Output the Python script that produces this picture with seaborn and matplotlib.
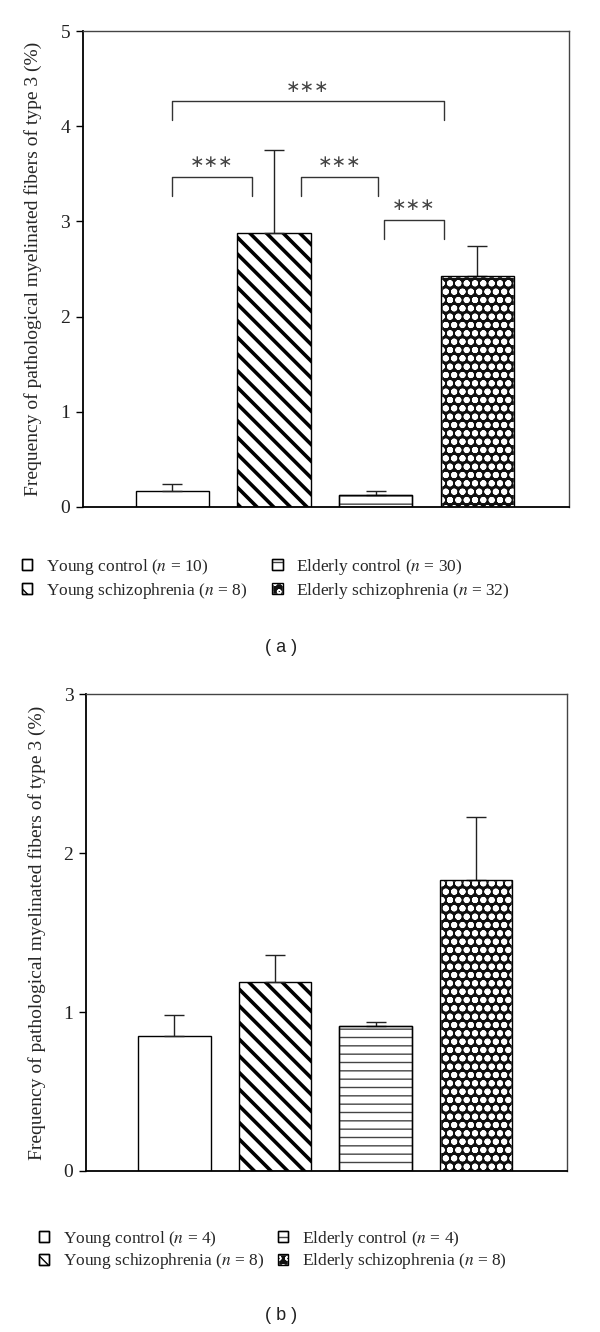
import numpy as np
import pandas as pd
import matplotlib
matplotlib.use("Agg")
import matplotlib.pyplot as plt
import seaborn as sns
from matplotlib.patches import Patch, Rectangle
from matplotlib.legend_handler import HandlerTuple

sns.set_theme(style="white")
plt.rcParams['font.family'] = ['Liberation Serif', 'DejaVu Serif']
plt.rcParams['mathtext.fontset'] = 'stix'

# ---------------- data ----------------
groups = ["Young control", "Young schizophrenia", "Elderly control", "Elderly schizophrenia"]
values_a = [0.17, 2.88, 0.13, 2.43]
errors_a = [0.07, 0.87, 0.04, 0.31]
n_a = [10, 8, 30, 32]
values_b = [0.85, 1.19, 0.915, 1.83]
errors_b = [0.13, 0.17, 0.025, 0.40]
n_b = [4, 8, 4, 8]
yticks_a = [0, 1, 2, 3, 4, 5]
yticks_b = [0, 1, 2, 3]
ylabel = "Frequency of pathological myelinated fibers of type 3 (%)"
# significance brackets for panel a: (x_start, x_end, y_top, label)
brackets_a = [(0.0, 2.67, 4.265, "***"),
              (0.0, 0.78, 3.47, "***"),
              (1.27, 2.02, 3.47, "***"),
              (2.08, 2.67, 3.02, "***")]

# ---------------- styles ----------------
hatches = [None, '\\\\', '--', 'oo']
faces = ['white', 'white', 'white', '#111111']
hatch_cols = ['black', 'black', '#444444', 'white']
hatch_lw = [1.0, 2.6, 1.0, 2.0]

fig = plt.figure(figsize=(6.0, 13.32), dpi=100)
ax_a = fig.add_axes([0.138, 0.6194, 0.810, 0.3573])
ax_b = fig.add_axes([0.1433, 0.1209, 0.8012, 0.3578])


def style_bars(ax):
    for i, p in enumerate(ax.patches[:4]):
        p.set_facecolor(faces[i])
        p.set_edgecolor(hatch_cols[i])
        if hatches[i]:
            p.set_hatch(hatches[i])
            if hasattr(p, "set_hatch_linewidth"):
                p.set_hatch_linewidth(hatch_lw[i])
        if hatch_cols[i] != 'black':
            ax.add_patch(Rectangle(p.get_xy(), p.get_width(), p.get_height(),
                                   fill=False, edgecolor='black', linewidth=1.0,
                                   zorder=p.get_zorder() + 0.1))


def panel(ax, values, errors, ymax, yticks):
    df = pd.DataFrame({"group": groups, "value": values})
    sns.barplot(data=df, x="group", y="value", order=groups, ax=ax,
                color='white', edgecolor='black', linewidth=1.0, width=0.72,
                errorbar=None, saturation=1)
    bars = ax.patches[:4]
    style_bars(ax)
    xs = [p.get_x() + p.get_width() / 2 for p in bars]
    ax.errorbar(xs, values, yerr=[np.zeros(len(values)), errors], fmt='none',
                ecolor='#222222', elinewidth=1.0, capsize=7, capthick=1.0, zorder=1)
    ax.set_xlim(-0.88, 3.90)
    ax.set_ylim(0, ymax)
    ax.set_yticks(yticks)
    ax.set_yticklabels([str(t) for t in yticks], fontsize=14)
    ax.set_xticks([])
    ax.set_xlabel("")
    ax.set_ylabel(ylabel, fontsize=14, labelpad=13)
    for s in ['left', 'bottom']:
        ax.spines[s].set_color('black')
        ax.spines[s].set_linewidth(1.3)
    for s in ['top', 'right']:
        ax.spines[s].set_color('#444444')
        ax.spines[s].set_linewidth(1.0)
    ax.tick_params(axis='y', which='major', left=True, length=5, width=1.0,
                   direction='out', pad=4, colors='black')
    ax.tick_params(axis='y', labelcolor='#222222')


panel(ax_a, values_a, errors_a, 5, yticks_a)
panel(ax_b, values_b, errors_b, 3, yticks_b)

# brackets in panel a
for x1, x2, y, lab in brackets_a:
    ax_a.plot([x1, x1, x2, x2], [y - 0.2, y, y, y - 0.2], color='#333333', lw=1.0)
    ax_a.text((x1 + x2) / 2, y + 0.15, "\u2217\u2217\u2217", ha='center', va='center',
              fontsize=12.5, color='#444444', family='DejaVu Sans')


def legend_handles(ns):
    hs, labs = [], []
    for i, g in enumerate(groups):
        fillp = Patch(facecolor=faces[i], edgecolor=hatch_cols[i],
                      hatch=hatches[i], linewidth=1.0)
        outline = Patch(facecolor='none', edgecolor='black', linewidth=1.0)
        hs.append((fillp, outline))
        labs.append(f"{g} ($n$ = {ns[i]})")
    return hs, labs


hs, labs = legend_handles(n_a)
fig.legend(handles=hs, labels=labs, ncol=2, loc='center',
           handler_map={tuple: HandlerTuple(ndivide=1, pad=0)},
           bbox_to_anchor=(0.443, 0.5655), frameon=False, fontsize=12.5,
           handlelength=0.6, handleheight=0.6, handletextpad=0.8,
           columnspacing=1.45, labelspacing=0.25)
hs, labs = legend_handles(n_b)
fig.legend(handles=hs, labels=labs, ncol=2, loc='center',
           handler_map={tuple: HandlerTuple(ndivide=1, pad=0)},
           bbox_to_anchor=(0.455, 0.0615), frameon=False, fontsize=12.5,
           handlelength=0.6, handleheight=0.6, handletextpad=0.8,
           columnspacing=0.8, labelspacing=0.15)

fig.text(0.468, 1 - 648 / 1332, "( a )", ha='center', va='center', fontsize=13,
         family='Liberation Sans', color='#222222')
fig.text(0.468, 1 - 1316 / 1332, "( b )", ha='center', va='center', fontsize=13,
         family='Liberation Sans', color='#222222')

fig.savefig("out.png", dpi=100)
